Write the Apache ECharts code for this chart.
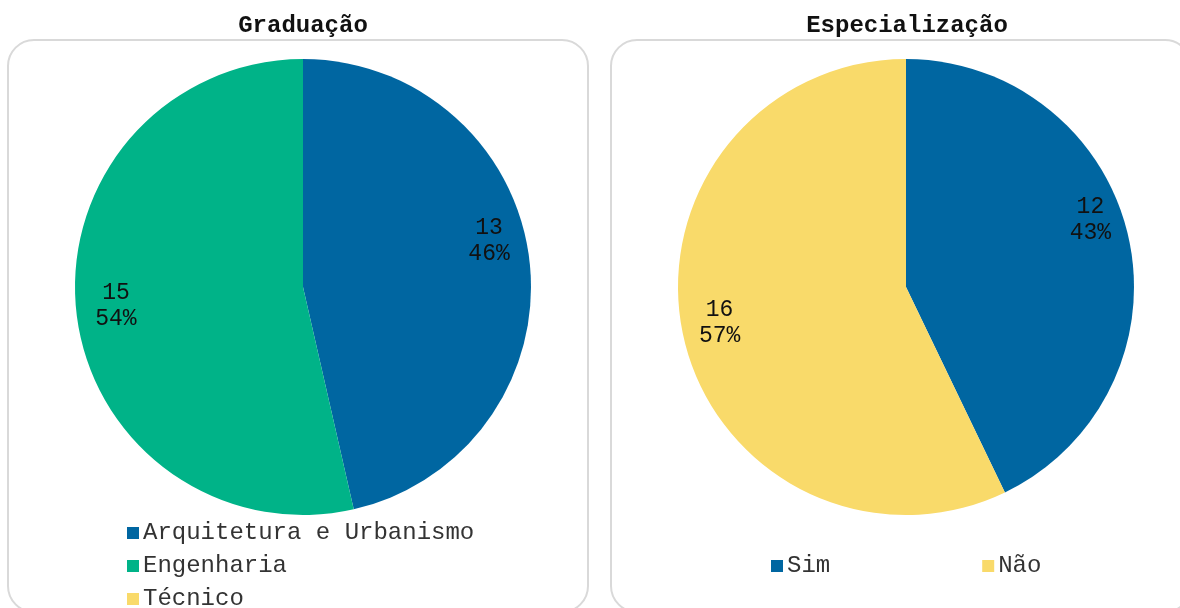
<!DOCTYPE html>
<html>
<head>
<meta charset="utf-8">
<style>
  html, body { margin: 0; padding: 0; background: #fff; }
  #chart { width: 1180px; height: 608px; }
</style>
<script src="https://cdn.jsdelivr.net/npm/echarts@6/dist/echarts.min.js"></script>
</head>
<body>
<div id="chart"></div>
<script>
// dados
const gradNames = ['Arquitetura e Urbanismo', 'Engenharia', 'Técnico']
const gradValues = [13, 15, 0]
const espNames = ['Sim', 'Não']
const espValues = [12, 16]
const colors = ['#0066A1', '#00B388', '#F9DA6A']

// ajuste fino dos rotulos (px), como o Excel posiciona
const gradLabelShift = [[-5, -25], [4, -3], [0, 0]]
const espLabelShift = [[-3, -24], [1, -7]]

const font = '"Liberation Mono", "Courier New", monospace'
const R = 228 // raio das pizzas

function toData (names, values, cols) {
  return names.map((n, i) => ({ name: n, value: values[i], itemStyle: { color: cols[i] } }))
}

// pizza visivel
function pieSeries (center, data) {
  return {
    type: 'pie',
    center: center,
    radius: [0, R],
    startAngle: 90,
    percentPrecision: 0,
    label: { show: false },
    labelLine: { show: false },
    data: data
  }
}

// anel transparente so para posicionar os rotulos perto da borda
function labelSeries (center, data, shift) {
  return {
    type: 'pie',
    center: center,
    radius: [R * 0.66, R],
    startAngle: 90,
    percentPrecision: 0,
    silent: true,
    itemStyle: { color: 'transparent' },
    label: {
      show: true,
      position: 'inside',
      fontFamily: font,
      fontSize: 23,
      lineHeight: 26,
      color: '#111',
      formatter: p => p.value === 0 ? '' : p.value + '\n' + p.percent + '%'
    },
    labelLine: { show: false },
    data: data.map((d, i) => ({
      name: d.name,
      value: d.value,
      itemStyle: { color: 'transparent' },
      label: { offset: shift[i] }
    }))
  }
}

const gradData = toData(gradNames, gradValues, colors)
const espData = toData(espNames, espValues, [colors[0], colors[2]])

const legendText = { fontFamily: font, fontSize: 24, color: '#333', padding: [0, 0, 0, -1] }

// legenda da esquerda: uma por linha para nao quebrar em colunas
const gradLegends = gradNames.map((n, i) => ({
  orient: 'vertical',
  left: 127,
  top: 521 + i * 33,
  padding: 0,
  itemWidth: 12,
  itemHeight: 12,
  icon: 'rect',
  data: [n],
  textStyle: legendText
}))

const myChart = echarts.init(document.getElementById('chart'))
myChart.setOption({
  animation: false,
  title: [
    { text: 'Graduação', left: 298, top: 9, textAlign: 'center',
      textStyle: { fontFamily: font, fontSize: 24, fontWeight: 'bold', color: '#111' } },
    { text: 'Especialização', left: 902, top: 9, textAlign: 'center',
      textStyle: { fontFamily: font, fontSize: 24, fontWeight: 'bold', color: '#111' } }
  ],
  graphic: [
    { type: 'rect', z: -1, shape: { x: 8, y: 40, width: 580, height: 572, r: 26 },
      style: { fill: 'none', stroke: '#d9d9d9', lineWidth: 2 } },
    { type: 'rect', z: -1, shape: { x: 611, y: 40, width: 580, height: 572, r: 26 },
      style: { fill: 'none', stroke: '#d9d9d9', lineWidth: 2 } }
  ],
  legend: gradLegends.concat([
    {
      orient: 'horizontal',
      left: 771,
      top: 554,
      padding: 0,
      itemWidth: 12,
      itemHeight: 12,
      itemGap: 152,
      icon: 'rect',
      data: espNames,
      textStyle: legendText
    }
  ]),
  series: [
    pieSeries([303, 287], gradData),
    pieSeries([906, 287], espData),
    labelSeries([303, 287], gradData, gradLabelShift),
    labelSeries([906, 287], espData, espLabelShift)
  ]
})
</script>
</body>
</html>
